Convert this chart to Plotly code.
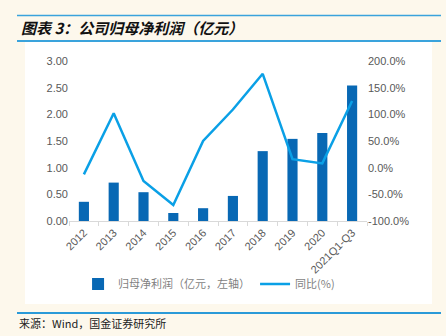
import plotly.graph_objects as go

categories = ["2012", "2013", "2014", "2015", "2016", "2017", "2018", "2019", "2020", "2021Q1-Q3"]
profit = [0.36, 0.72, 0.54, 0.15, 0.24, 0.47, 1.31, 1.54, 1.65, 2.54]
yoy = [-12.5, 102.0, -25.0, -70.0, 50.0, 109.0, 176.0, 16.0, 8.0, 125.0]

left_ticks = [0, 0.5, 1.0, 1.5, 2.0, 2.5, 3.0]
left_labels = ["0.00", "0.50", "1.00", "1.50", "2.00", "2.50", "3.00"]
right_ticks = [-100, -50, 0, 50, 100, 150, 200]
right_labels = ["-100.0%", "-50.0%", "0.0%", "50.0%", "100.0%", "150.0%", "200.0%"]

W, H = 446, 336
L, R, T, B = 69, 79, 61, 115
PW, PH = W - L - R, H - T - B

fig = go.Figure()
fig.add_trace(go.Bar(
    x=categories, y=profit, name="归母净利润（亿元，左轴）",
    marker=dict(color="#0868b4", line=dict(width=0)), width=0.34, yaxis="y",
))
fig.add_trace(go.Scatter(
    x=categories, y=yoy, name="同比(%)", mode="lines",
    line=dict(color="#0aa0e6", width=2.5), yaxis="y2",
))

fig.update_layout(
    width=W, height=H,
    margin=dict(l=L, r=R, t=T, b=B, autoexpand=False),
    paper_bgcolor="#fdf8ec", plot_bgcolor="white",
    font=dict(family="Liberation Sans, Arial, Noto Sans CJK SC", size=11, color="#595959"),
    showlegend=True,
    legend=dict(orientation="h", x=0.47, xanchor="center", y=(221 - 284) / PH, yanchor="middle",
                font=dict(size=11, color="#7f7f7f", family="Noto Sans CJK SC, Liberation Sans"),
                bgcolor="rgba(0,0,0,0)", itemwidth=30, traceorder="normal"),
    xaxis=dict(type="category", tickangle=-45, showline=True, linecolor="#d9d9d9", linewidth=1,
               ticks="outside", tickson="boundaries", ticklen=4, tickcolor="#d9d9d9",
               showgrid=False, automargin=False, tickfont=dict(size=11, color="#595959")),
    yaxis=dict(range=[0, 3], tickvals=left_ticks, ticktext=left_labels, showgrid=False,
               zeroline=False, showline=False, ticks="", automargin=False,
               tickfont=dict(size=11, color="#595959")),
    yaxis2=dict(range=[-100, 200], tickvals=right_ticks, ticktext=right_labels, overlaying="y",
                side="right", showgrid=False, zeroline=False, showline=False, automargin=False,
                ticks="", tickfont=dict(size=11, color="#595959")),
)

def fx(x):
    return (x - L) / PW
def fy(y):
    return (H - B - y) / PH

# white panel
fig.add_shape(type="rect", xref="paper", yref="paper",
              x0=fx(25), x1=fx(432), y0=fy(304), y1=fy(41),
              fillcolor="white", line=dict(width=0), layer="below")

def hline(y, x0, x1, color, width):
    fig.add_shape(type="line", xref="paper", yref="paper",
                  x0=fx(x0), x1=fx(x1), y0=fy(y), y1=fy(y),
                  line=dict(color=color, width=width))

hline(15.5, 17, 441, "#3aa3dc", 1.5)
hline(41, 17, 441, "#3aa3dc", 2)
hline(313, 17, 441, "#2a9ad8", 2)

fig.add_annotation(xref="paper", yref="paper", x=fx(19), y=fy(28),
                   xanchor="left", yanchor="middle", showarrow=False,
                   text="<b><i>图表 3：公司归母净利润（亿元）</i></b>",
                   font=dict(family="Noto Sans CJK SC", size=15, color="#111111"))
fig.add_annotation(xref="paper", yref="paper", x=fx(17), y=fy(323),
                   xanchor="left", yanchor="middle", showarrow=False,
                   text="来源：Wind，国金证券研究所",
                   font=dict(family="Noto Sans CJK SC", size=11, color="#222222"))

fig.write_html("out.html")
